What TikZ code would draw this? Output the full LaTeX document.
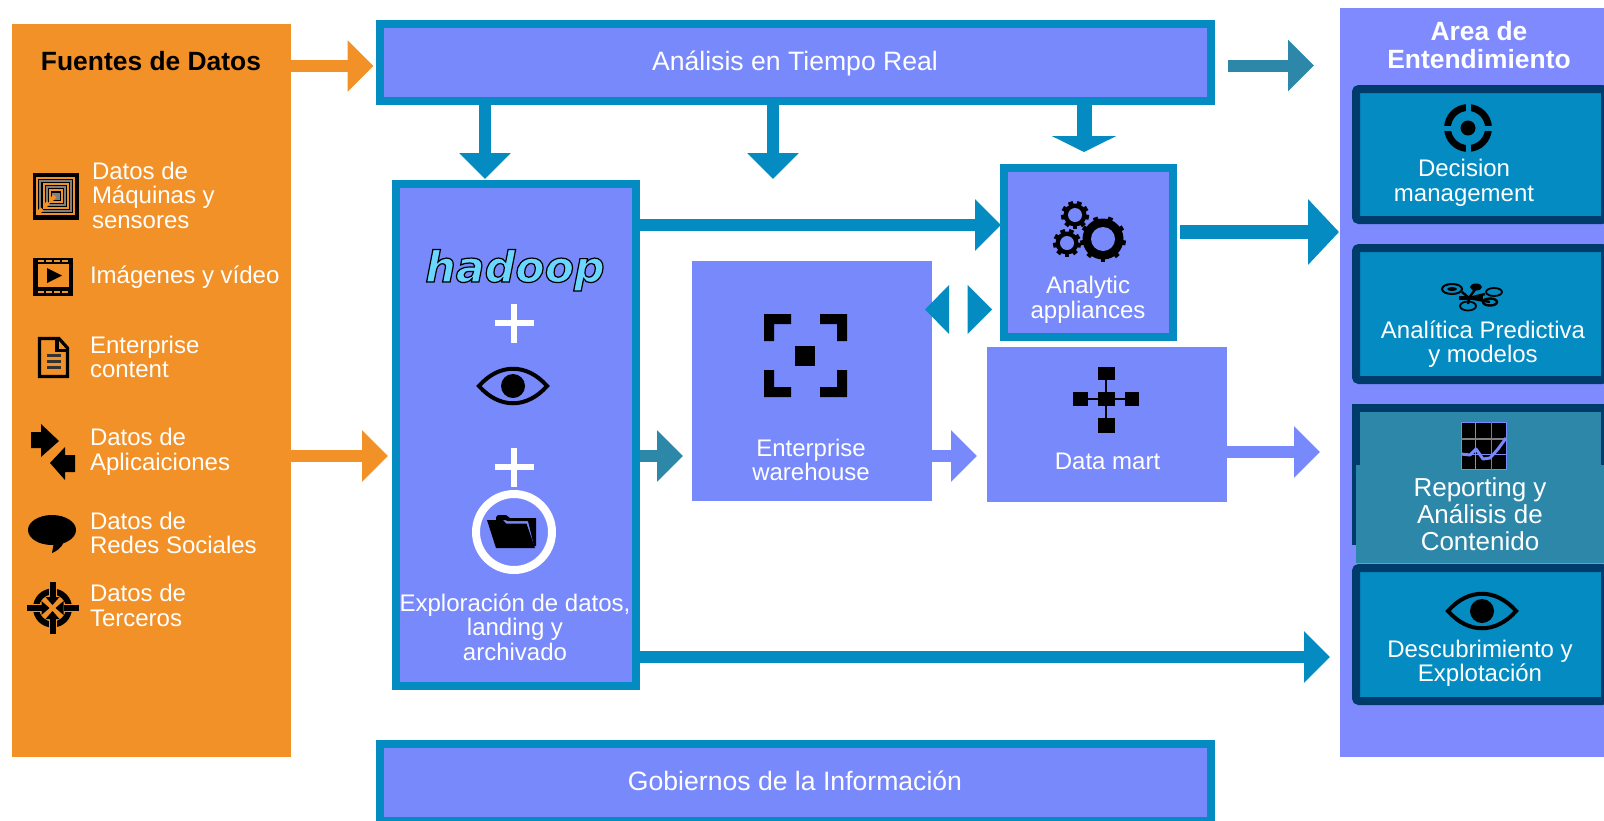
\documentclass[tikz,border=0pt]{standalone}
\usepackage{fontspec}
\setmainfont{Liberation Sans}
\newfontfamily\hadoopfont{DejaVu Sans}[BoldItalicFont={DejaVu Sans Bold Oblique}]
\usetikzlibrary{arrows.meta}
\definecolor{boxblue}{HTML}{7889FB}
\definecolor{panelblue}{HTML}{7E8AFE}
\definecolor{borderteal}{HTML}{048BC1}
\definecolor{darkteal}{HTML}{2C87A9}
\definecolor{navy}{HTML}{003C6B}
\definecolor{orange1}{HTML}{F29127}
\tikzset{
  flow/.style={line width=6pt,-{Triangle[length=13pt,width=25pt]}},
  bigflow/.style={line width=7.2pt,-{Triangle[length=15.5pt,width=32pt]}},
  midflow/.style={line width=7.5pt,-{Triangle[length=8pt,width=32pt]}},
  framed/.style={rectangle,draw=borderteal,fill=boxblue,line width=4pt,inner sep=0pt,outer sep=0pt},
  plain/.style={rectangle,fill=boxblue,inner sep=0pt,outer sep=0pt},
  pane/.style={rectangle,rounded corners=1.5pt,draw=navy,fill=borderteal,line width=4pt,inner sep=0pt,outer sep=0pt},
  txt/.style={text=white,inner sep=0pt,outer sep=0pt,align=center,font=\fontsize{12}{12.25}\selectfont},
  ltxt/.style={txt,align=left,anchor=west},
  bigtxt/.style={text=white,inner sep=0pt,outer sep=0pt,font=\fontsize{13.3}{14}\selectfont},
  headtxt/.style={inner sep=0pt,outer sep=0pt,align=center,font=\bfseries\fontsize{13.2}{14}\selectfont},
}
\newcommand{\eyeicon}[3]{%
  \begin{scope}[shift={(#1,#2)}]
    \draw[black,line width=2pt,fill=#3] (-34,0) .. controls (-14,-23) and (14,-23) .. (34,0) .. controls (14,23) and (-14,23) .. (-34,0) -- cycle;
    \fill[black] (0,0) circle[radius=12];
  \end{scope}}
\newcommand{\gearicon}[4]{%
  \begin{scope}[shift={(#1,#2)}]
    \fill[black] (0,0) circle[radius=#3-2.5];
    \foreach \a in {0,40,...,320} {\draw[black,line width=2.4pt] (\a+10:#3-4) -- (\a+10:#3);}
    \fill[boxblue] (0,0) circle[radius=#4];
  \end{scope}}
\begin{document}
\begin{tikzpicture}[x=.5pt,y=-.5pt]
\useasboundingbox (0,0) rectangle (1604,820);
\clip (0,0) rectangle (1604,820);
% --- panels
\node[rectangle,fill=orange1,inner sep=0pt,outer sep=0pt,minimum width=139.5pt,minimum height=366.5pt] (src) at (151.5,390.5) {};
\node[rectangle,fill=panelblue,inner sep=0pt,outer sep=0pt,minimum width=132pt,minimum height=374.5pt] (area) at (1472,382.5) {};
% --- arrow end points
\coordinate (e1) at (373.5,66);
\coordinate (e2) at (388,456);
\coordinate (e3) at (485,179);
\coordinate (e4) at (773,179);
\coordinate (e5) at (1084,152);
\coordinate (s6) at (1228,65.5);
\coordinate (e6) at (1314,65.5);
\coordinate (e7) at (1001,225);
\coordinate (e8) at (683,456);
\coordinate (e9) at (977,456);
\coordinate (s10) at (1180,232);
\coordinate (e10) at (1339,232);
\coordinate (e11) at (1320,452);
\coordinate (e12) at (1330,657);
% --- boxes
\node[framed,minimum width=415.5pt,minimum height=38.5pt] (rt) at (795.5,62.5) {};
\node[framed,minimum width=415.5pt,minimum height=38.5pt] (gov) at (795.5,782.5) {};
\node[framed,minimum width=120pt,minimum height=251pt] (exp) at (516,435) {};
\node[framed,minimum width=84.5pt,minimum height=84.5pt] (ana) at (1088.5,252.5) {};
\node[plain,minimum width=120pt,minimum height=120pt] (ew) at (812,381) {};
\node[plain,minimum width=120pt,minimum height=77.5pt] (dm) at (1107,424.5) {};
% --- block arrows
\draw[flow,draw=orange1] (src.east |- e1) -- (e1);
\draw[flow,draw=orange1] (src.east |- e2) -- (e2);
\draw[flow,draw=borderteal] (rt.south -| e3) -- (e3);
\draw[flow,draw=borderteal] (rt.south -| e4) -- (e4);
\draw[midflow,draw=borderteal] (rt.south -| e5) -- (e5);
\draw[flow,draw=darkteal] (s6) -- (e6);
\draw[flow,draw=borderteal] (exp.east |- e7) -- (e7);
\draw[flow,draw=darkteal] (exp.east |- e8) -- (e8);
\draw[flow,draw=boxblue] (ew.east |- e9) -- (e9);
\draw[bigflow,draw=borderteal] (s10) -- (e10);
\draw[flow,draw=boxblue] (dm.east |- e11) -- (e11);
\draw[flow,draw=borderteal] (exp.east |- e12) -- (e12);
% redraw frames over arrow starts
\draw[borderteal,line width=4pt] (rt.south west) -- (rt.south east);
\draw[borderteal,line width=4pt] (exp.north east) -- (exp.south east);
% two-way triangles between warehouse and appliances
\coordinate (d1) at (925,309.5);
\coordinate (d2) at (992,309.5);
\fill[borderteal] (d1) -- (949,285) -- (949,334) -- cycle;
\fill[borderteal] (d2) -- (967.5,285) -- (967.5,334) -- cycle;
% --- right panes
\node[pane,minimum width=124.5pt,minimum height=65.5pt] (p1) at (1480.5,154.5) {};
\node[pane,minimum width=124.5pt,minimum height=66pt] (p2) at (1480.5,314) {};
\node[rectangle,draw=navy,fill=darkteal,line width=4pt,inner sep=0pt,outer sep=0pt,minimum width=124.5pt,minimum height=66.5pt] (p3) at (1480.5,474.5) {};
\node[rectangle,fill=darkteal,inner sep=0pt,outer sep=0pt,minimum width=124pt,minimum height=49pt] (p3b) at (1480,514) {};
\node[pane,minimum width=124.5pt,minimum height=66.5pt] (p4) at (1480.5,634.5) {};
% --- texts
\node[headtxt] (t0) at (151,61) {Fuentes de Datos};
\node[bigtxt] (t1) at (795,63) {Análisis en Tiempo Real};
\node[bigtxt] (t2) at (795,781) {Gobiernos de la Información};
\node[headtxt,text=white] (t3) at (1479,45) {Area de\\Entendimiento};
\node[ltxt] (l1) at (92,195) {Datos de\\Máquinas y\\sensores};
\node[ltxt] (l2) at (90,277) {Imágenes y vídeo};
\node[ltxt] (l3) at (90,357) {Enterprise\\content};
\node[ltxt] (l4) at (90,452) {Datos de\\Aplicaiciones};
\node[ltxt] (l5) at (90,533) {Datos de\\Redes Sociales};
\node[ltxt] (l6) at (90,605.5) {Datos de\\Terceros};
\node[txt] (x1) at (515,627) {Exploración de datos,\\landing y\\archivado};
\node[txt] (x2) at (811,460) {Enterprise\\warehouse};
\node[txt] (x3) at (1088,300) {Analytic\\appliances};
\node[txt] (x4) at (1107.5,461) {Data mart};
\node[txt] (r1) at (1464,183) {Decision\\management};
\node[txt] (r2) at (1483,344) {Analítica Predictiva\\y modelos};
\node[txt,font=\fontsize{13}{13.6}\selectfont] (r3) at (1480,514) {Reporting y\\Análisis de\\Contenido};
\node[txt] (r4) at (1480,663.5) {Descubrimiento y\\Explotación};
% --- hadoop logo
\node[inner sep=0pt,anchor=base,font=\hadoopfont\bfseries\itshape\fontsize{21.4}{22}\selectfont] (hd) at (515,282) {\special{pdf:code q 2 Tr 0.6 w 0 0 0 RG 0.42 0.84 1 rg}hadoop\special{pdf:code Q}};
% --- plus signs, ring
\fill[white] (494.5,320) rectangle (533.5,326);
\fill[white] (511,303.5) rectangle (517,342.5);
\fill[white] (494.5,464) rectangle (533.5,470);
\fill[white] (511,447.5) rectangle (517,486.5);
\draw[white,line width=4pt] (514,532) circle[radius=38];
% --- eyes
\eyeicon{513}{386}{boxblue}
\eyeicon{1482}{611}{borderteal}
% --- folder
\fill[black] (496,517) -- (498,515) -- (506,515) -- (510,518) -- (536,518) -- (536,546) -- (534,546) -- (528,521) -- (508,521) -- (505,520) -- (496,520) -- cycle;
\fill[black] (487,520) -- (503,520) -- (506,523.5) -- (526.5,523.5) -- (535,548) -- (496,548) -- cycle;
% --- machine icon
\fill[black] (33,173) rectangle (79,220);
\draw[orange1,line width=.6pt] (37,178) rectangle (74,214);
\draw[gray,line width=.8pt] (40,181) rectangle (71,211);
\draw[orange1,line width=.6pt] (44,184) rectangle (68,208);
\draw[gray,line width=.8pt] (47,187) rectangle (65,205);
\draw[orange1,line width=.6pt] (50,190) rectangle (62,202);
\fill[gray] (52,193) rectangle (60,200);
\draw[orange1,line width=2pt,dash pattern=on 3pt off 1.5pt] (38,213) -- (57,194);
% --- film icon
\fill[black] (33,258) rectangle (73,296);
\fill[orange1] (38,264) rectangle (69,287);
\fill[black] (47,268) -- (62,275.5) -- (47,283) -- cycle;
\foreach \x in {38,46,54,62} {
  \fill[orange1] (\x,260) rectangle (\x+6,262);
  \fill[orange1] (\x,291) rectangle (\x+6,292.5);
}
% --- document icon
\draw[black,line width=1.6pt,line join=miter] (39.5,338.5) -- (59,338.5) -- (67.5,348) -- (67.5,376.5) -- (39.5,376.5) -- cycle;
\draw[black,line width=1.6pt] (57,338) -- (57,350.5) -- (68,350.5);
\fill[black!80] (47,354) rectangle (61,357);
\fill[black!80] (47,360) rectangle (61,363);
\fill[black!80] (47,366) rectangle (61,369);
% --- two arrows icon
\fill[black] (31,432) -- (41,432) -- (41,424) -- (59,441) -- (41,457) -- (41,448) -- (31,448) -- cycle;
\fill[black] (75,455) -- (65,455) -- (65,447) -- (50,463) -- (65,480) -- (65,472) -- (75,472) -- cycle;
% --- speech bubble
\fill[black] (52,530) ellipse[x radius=24,y radius=15];
\fill[black] (52,553) -- (54,542) -- (64,542) .. controls (61,548) and (57,551) .. cycle;
% --- crosshair
\draw[black,line width=3pt] (52.5,608) circle[radius=16.5];
\draw[orange1,line width=4pt] (52.5,580) -- (52.5,636);
\draw[orange1,line width=4pt] (25,608) -- (80,608);
\foreach \a in {0,90,180,270} {
  \begin{scope}[shift={(52.5,608)},rotate=\a]
    \fill[black] (-3,-26) rectangle (3,-11);
    \fill[black] (-7,-11) -- (7,-11) -- (0,-3) -- cycle;
  \end{scope}
}
% --- gears
\gearicon{1075}{215}{14}{7}
\gearicon{1067}{243}{14}{7}
\gearicon{1103}{239}{23}{12}
% --- corners icon
\fill[black] (764,314) -- (791,314) -- (791,324) -- (774,324) -- (774,341) -- (764,341) -- cycle;
\fill[black] (847,314) -- (820,314) -- (820,324) -- (837,324) -- (837,341) -- (847,341) -- cycle;
\fill[black] (764,397) -- (791,397) -- (791,387) -- (774,387) -- (774,370) -- (764,370) -- cycle;
\fill[black] (847,397) -- (820,397) -- (820,387) -- (837,387) -- (837,370) -- (847,370) -- cycle;
\fill[black] (795,346) rectangle (815,366);
% --- network icon
\draw[black,line width=1pt] (1106,374) -- (1106,425);
\draw[black,line width=1pt] (1080,399) -- (1132,399);
\fill[black] (1098,367) rectangle (1115,380);
\fill[black] (1098,392) rectangle (1115,406);
\fill[black] (1098,418) rectangle (1115,433);
\fill[black] (1073,392) rectangle (1088,406);
\fill[black] (1125,392) rectangle (1139,406);
% --- target icon
\draw[black,line width=3.4pt] (1468,128) circle[radius=20.5];
\fill[borderteal] (1465.5,100) rectangle (1470.5,156);
\fill[borderteal] (1440,125.5) rectangle (1496,130.5);
\fill[black] (1468,128) circle[radius=7.5];
% --- model icon
\draw[black,line width=1.2pt] (1462,292) -- (1469,298) -- (1476,288);
\draw[black,line width=1.2pt] (1469,298) -- (1468,304);
\draw[black,line width=1.2pt] (1469,298) -- (1490,302);
\draw[black,line width=1.2pt] (1469,298) -- (1485,294);
\fill[black] (1459,296) rectangle (1483,300);
\draw[black,line width=1pt] (1452,289) ellipse[x radius=10,y radius=5];
\fill[black] (1452,289) ellipse[x radius=5,y radius=2];
\fill[black] (1476,287) ellipse[x radius=6,y radius=3.5];
\draw[black,line width=.9pt] (1494,292) ellipse[x radius=8,y radius=4];
\draw[black,line width=.9pt] (1468,306) ellipse[x radius=8,y radius=4.5];
\draw[black,line width=1.2pt] (1490,302) ellipse[x radius=7,y radius=3.5];
% --- chart icon
\fill[black] (1461,422) rectangle (1507,470);
\draw[boxblue,line width=.5pt] (1461.5,422.5) rectangle (1506.5,469.5);
\draw[boxblue,line width=.5pt] (1475,422) -- (1475,470);
\draw[gray,line width=.5pt] (1491,422) -- (1491,470);
\draw[gray,line width=1pt] (1461,438.5) -- (1507,438.5);
\draw[boxblue,line width=.5pt] (1461,454) -- (1507,454);
\draw[boxblue,line width=1.5pt,line join=round] (1461,454) -- (1470,455) -- (1476,449) -- (1483,459) -- (1490,458) -- (1498,449) -- (1506,438);
\end{tikzpicture}
\end{document}
